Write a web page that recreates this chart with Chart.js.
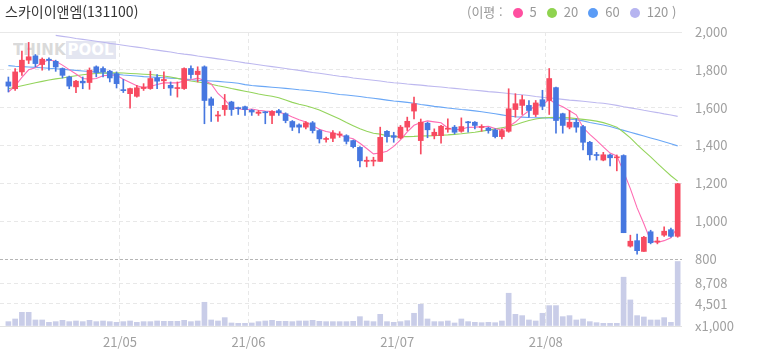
<!DOCTYPE html>
<html lang="ko">
<head>
<meta charset="utf-8">
<title>스카이이앤엠(131100)</title>
<script src="https://cdn.jsdelivr.net/npm/chart.js"></script>
<style>
body{margin:0;background:#fff;}
#box{position:relative;width:758px;height:355px;font-family:"Noto Sans CJK KR",sans-serif;overflow:hidden;}
#title{position:absolute;left:5px;top:1px;font-size:14px;color:#333;}
#legend{position:absolute;left:467px;top:2px;font-size:13px;color:#999;white-space:nowrap;}
#legend i{display:inline-block;width:10px;height:10px;border-radius:50%;margin:0 7px 0 10px;vertical-align:-1px;}
#wm{position:absolute;left:13px;top:41px;font:bold 15px "DejaVu Sans",sans-serif;opacity:.55;}
#wm b{color:#bdbdbd;}
#wm span{color:#fff;background:#cfd3e6;padding:0 2px;}
canvas{position:absolute;left:0;top:0;}
</style>
</head>
<body>
<div id="box">
  <div id="wm"><b>THINK</b><span>POOL</span></div>
  <canvas id="myChart" width="758" height="355"></canvas>
  <div id="title">스카이이앤엠(131100)</div>
  <div id="legend">(이평 :<i style="background:#ff4fa0"></i>5<i style="background:#8fd34f"></i>20<i style="background:#5b9cf6"></i>60<i style="background:#b6b4f0"></i>120 )</div>
</div>
<script>
// trading days 21/04/08 ~ 21/08/30
var dates = [
 "21/04/08","21/04/09","21/04/12","21/04/13","21/04/14","21/04/15","21/04/16","21/04/19","21/04/20","21/04/21",
 "21/04/22","21/04/23","21/04/26","21/04/27","21/04/28","21/04/29","21/04/30","21/05/03","21/05/04","21/05/06",
 "21/05/07","21/05/10","21/05/11","21/05/12","21/05/13","21/05/14","21/05/17","21/05/18","21/05/20","21/05/21",
 "21/05/24","21/05/25","21/05/26","21/05/27","21/05/28","21/05/31","21/06/01","21/06/02","21/06/03","21/06/04",
 "21/06/07","21/06/08","21/06/09","21/06/10","21/06/11","21/06/14","21/06/15","21/06/16","21/06/17","21/06/18",
 "21/06/21","21/06/22","21/06/23","21/06/24","21/06/25","21/06/28","21/06/29","21/06/30","21/07/01","21/07/02",
 "21/07/05","21/07/06","21/07/07","21/07/08","21/07/09","21/07/12","21/07/13","21/07/14","21/07/15","21/07/16",
 "21/07/19","21/07/20","21/07/21","21/07/22","21/07/23","21/07/26","21/07/27","21/07/28","21/07/29","21/07/30",
 "21/08/02","21/08/03","21/08/04","21/08/05","21/08/06","21/08/09","21/08/10","21/08/11","21/08/12","21/08/13",
 "21/08/17","21/08/18","21/08/19","21/08/20","21/08/23","21/08/24","21/08/25","21/08/26","21/08/27","21/08/30"
];

var open = [1736,1700,1789,1851,1874,1828,1856,1845,1807,1762,
 1710,1740,1733,1816,1807,1793,1780,1694,1674,1660,
 1701,1701,1757,1742,1718,1701,1701,1807,1775,1816,
 1647,1556,1590,1630,1600,1605,1587,1570,1577,1559,
 1584,1568,1527,1509,1497,1520,1479,1432,1438,1455,
 1452,1426,1390,1316,1317,1316,1475,1452,1440,1497,
 1582,1426,1518,1452,1452,1486,1497,1475,1525,1523,
 1495,1492,1482,1447,1475,1590,1612,1612,1564,1642,
 1638,1706,1568,1497,1523,1500,1417,1351,1323,1350,
 1335,1347,868,897,840,944,890,926,955,920];

var high = [1762,1807,1899,1945,1881,1863,1863,1851,1810,1767,
 1745,1762,1810,1821,1816,1798,1789,1750,1704,1718,
 1727,1793,1775,1789,1736,1736,1810,1821,1816,1821,
 1656,1580,1670,1634,1603,1609,1591,1585,1580,1585,
 1591,1573,1532,1515,1527,1527,1484,1444,1479,1473,
 1457,1429,1394,1340,1338,1497,1479,1470,1506,1550,
 1656,1540,1523,1488,1506,1541,1506,1546,1528,1527,
 1510,1496,1488,1488,1700,1674,1665,1638,1638,1692,
 1807,1709,1571,1585,1541,1506,1422,1364,1364,1355,
 1350,1351,926,932,920,952,915,970,964,1200];

var low = [1683,1691,1771,1833,1816,1798,1798,1792,1757,1700,
 1679,1700,1697,1763,1763,1736,1704,1680,1597,1656,
 1691,1697,1700,1701,1665,1656,1697,1754,1736,1515,
 1527,1527,1559,1559,1564,1559,1559,1559,1515,1515,
 1559,1520,1479,1466,1488,1466,1413,1417,1420,1443,
 1408,1387,1287,1287,1292,1316,1417,1417,1435,1479,
 1541,1355,1441,1435,1412,1470,1461,1470,1470,1488,
 1475,1465,1440,1435,1470,1550,1564,1550,1553,1589,
 1564,1465,1465,1488,1470,1376,1323,1323,1319,1292,
 1266,939,863,826,840,880,880,920,915,915];

var close = [1714,1789,1851,1869,1833,1856,1850,1815,1771,1714,
 1740,1731,1798,1786,1789,1757,1727,1690,1701,1705,
 1709,1754,1740,1749,1704,1706,1807,1775,1793,1638,
 1612,1559,1612,1590,1595,1590,1577,1577,1573,1580,
 1573,1532,1497,1497,1520,1479,1435,1437,1466,1461,
 1422,1394,1319,1322,1321,1443,1447,1443,1497,1528,
 1621,1523,1483,1470,1502,1488,1470,1500,1520,1506,
 1500,1479,1447,1479,1594,1621,1642,1585,1625,1607,
 1754,1532,1506,1523,1497,1417,1351,1347,1351,1335,
 1340,939,894,844,915,886,894,947,920,1198];

// moving averages (이평)
var ma5 = [1683,1715,1760,1800,1811,1840,1852,1845,1825,1801,
 1778,1754,1751,1754,1769,1772,1771,1750,1733,1716,
 1706,1712,1722,1731,1731,1731,1741,1748,1757,1744,
 1725,1675,1643,1602,1594,1589,1593,1586,1582,1579,
 1576,1567,1551,1536,1524,1505,1486,1474,1467,1456,
 1444,1436,1412,1384,1356,1360,1370,1395,1430,1472,
 1507,1522,1530,1525,1520,1493,1483,1486,1496,1497,
 1499,1501,1490,1482,1500,1524,1557,1584,1613,1616,
 1643,1621,1605,1584,1562,1495,1459,1427,1393,1360,
 1345,1262,1172,1070,986,896,887,897,912,969];

var ma20 = [1700,1708,1716,1724,1732,1739,1746,1752,1757,1763,
 1769,1774,1778,1781,1783,1784,1784,1783,1781,1779,
 1777,1775,1771,1767,1762,1755,1748,1741,1736,1731,
 1724,1716,1709,1701,1694,1687,1680,1672,1666,1660,
 1652,1640,1628,1618,1610,1600,1588,1572,1556,1540,
 1522,1505,1488,1475,1465,1460,1452,1448,1447,1447,
 1448,1450,1451,1452,1454,1456,1459,1462,1466,1470,
 1476,1481,1488,1494,1500,1510,1522,1532,1540,1545,
 1548,1549,1548,1546,1542,1538,1534,1529,1521,1510,
 1497,1470,1440,1405,1372,1340,1305,1272,1240,1212];

var ma60 = [1822,1819,1817,1815,1813,1811,1808,1806,1803,1800,
 1797,1794,1791,1788,1784,1780,1777,1773,1770,1767,
 1764,1762,1760,1758,1756,1754,1751,1748,1745,1743,
 1741,1739,1736,1733,1729,1722,1717,1714,1711,1708,
 1705,1702,1699,1695,1692,1688,1684,1680,1675,1670,
 1667,1663,1659,1654,1650,1645,1640,1635,1632,1628,
 1623,1617,1612,1607,1603,1598,1594,1590,1587,1583,
 1578,1573,1568,1562,1556,1552,1550,1548,1547,1546,
 1545,1543,1541,1539,1536,1530,1522,1515,1508,1500,
 1490,1480,1470,1460,1450,1440,1430,1420,1409,1398];

var ma120 = [null,null,null,null,null,null,null,1982,1977,1972,
 1966,1961,1956,1951,1946,1940,1935,1930,1925,1920,
 1915,1909,1904,1899,1894,1888,1883,1879,1873,1868,
 1863,1858,1853,1848,1843,1837,1832,1827,1822,1817,
 1812,1807,1802,1797,1792,1786,1782,1777,1771,1766,
 1763,1757,1753,1749,1745,1741,1736,1732,1729,1725,
 1722,1719,1715,1712,1709,1705,1702,1699,1695,1692,
 1689,1685,1682,1679,1675,1671,1668,1664,1659,1655,
 1652,1648,1644,1640,1637,1634,1630,1626,1623,1618,
 1612,1605,1599,1593,1586,1580,1574,1567,1561,1554];

// volume, x1,000
var volume = [890,1435,2800,2800,1230,1230,750,890,1160,890,
 1025,890,1160,890,1025,890,750,890,1025,750,
 890,890,1025,960,960,960,1160,890,1025,4850,
 1230,1025,1710,615,550,550,615,890,1025,1160,
 960,960,890,1025,1025,1160,960,890,890,890,
 890,960,1910,1025,890,2390,890,750,890,1090,
 2600,4440,1435,890,890,1025,615,1435,890,750,
 680,750,680,1025,6700,2390,2120,1230,1025,2600,
 4170,4170,1910,2120,1230,1435,890,680,550,550,
 550,9980,5330,2120,1845,1230,1230,1710,750,13190];

var priceTicks = [800,1000,1200,1400,1600,1800,2000];
var volumeTicks = [0,4501,8708];

var UP = '#f74a60', DOWN = '#4677e0';
var candleColor = close.map(function(c, i){ return c >= open[i] ? UP : DOWN; });

function xy(arr){
    return arr.map(function(v, i){ return {x: i, y: v}; });
}

// month boundaries -> x grid lines + labels
var monthStarts = [], monthLabel = {};
for (var i = 1; i < dates.length; i++) {
    if (dates[i].slice(0,5) !== dates[i-1].slice(0,5)) {
        monthStarts.push(i - 0.5);
        monthLabel[i - 0.5] = dates[i].slice(0,5);
    }
}

Chart.defaults.font.family = '"Noto Sans CJK KR", sans-serif';
Chart.defaults.font.size = 13;
Chart.defaults.color = '#a0a0a0';

function maLine(label, arr, color){
    return {type:'line', label:label, data:xy(arr), borderColor:color, borderWidth:1.1,
            pointRadius:0, tension:0, yAxisID:'y'};
}

var ctx = document.getElementById('myChart').getContext('2d');
var chart = new Chart(ctx, {
    type: 'bar',
    data: {
        datasets: [
            {label:'body', data: dates.map(function(d, i){ return {x:i, y:[Math.min(open[i], close[i]), Math.max(open[i], close[i])]}; }),
             backgroundColor: candleColor, barThickness:5, minBarLength:1, grouped:false, yAxisID:'y'},
            {label:'wick', data: dates.map(function(d, i){ return {x:i, y:[low[i], high[i]]}; }),
             backgroundColor: candleColor, barThickness:1, grouped:false, yAxisID:'y'},
            maLine('5', ma5, '#ff6cb3'),
            maLine('20', ma20, '#94d45c'),
            maLine('60', ma60, '#6aa7f6'),
            maLine('120', ma120, '#bdb8ef'),
            {label:'volume', data: xy(volume), backgroundColor:'#c9cde8', barThickness:5, grouped:false, yAxisID:'yv'}
        ]
    },
    options: {
        responsive: false,
        animation: false,
        layout: {padding: {top: 32, left: 0, right: 0, bottom: 0}},
        plugins: {legend: {display:false}, tooltip: {enabled:false}},
        scales: {
            x: {
                type: 'linear', min: -1.24, max: 99.64, offset: false,
                afterBuildTicks: function(s){ s.ticks = monthStarts.map(function(v){ return {value:v}; }); },
                afterFit: function(s){ s.height = 29; },
                ticks: {callback: function(v){ return monthLabel[v] || ''; }, padding: 8, maxRotation: 0, autoSkip: false},
                grid: {color:'#e8e8e8', drawTicks:false, offset:false},
                border: {display:false, dash:[4,3]}
            },
            y: {
                position: 'right', stack: 'panel', stackWeight: 227, min: 800, max: 2000,
                afterBuildTicks: function(s){ s.ticks = priceTicks.map(function(v){ return {value:v}; }); },
                afterFit: function(s){ s.width = 76; },
                ticks: {padding: 13, autoSkip: false, callback: function(v){ return v.toLocaleString('en-US'); }},
                grid: {drawTicks:false, color: function(c){ return c.tick && c.tick.value === 800 ? '#b5b5b5' : '#e8e8e8'; }},
                border: {display:false, dash: function(c){
                    if (!c.tick) return [4,3];
                    if (c.tick.value === 2000) return [];
                    return c.tick.value === 800 ? [3,2] : [4,3];
                }}
            },
            yv: {
                position: 'right', stack: 'panel', stackWeight: 67, min: 0, max: 13700,
                afterBuildTicks: function(s){ s.ticks = volumeTicks.map(function(v){ return {value:v}; }); },
                afterFit: function(s){ s.width = 76; },
                ticks: {padding: 13, autoSkip: false, callback: function(v){ return v === 0 ? 'x1,000' : v.toLocaleString('en-US'); }},
                grid: {drawTicks:false, color: function(c){ return c.tick && c.tick.value === 0 ? '#e2e2e2' : '#e8e8e8'; }},
                border: {display:false, dash: function(c){ return c.tick && c.tick.value === 0 ? [] : [4,3]; }}
            }
        }
    }
});
</script>
</body>
</html>
